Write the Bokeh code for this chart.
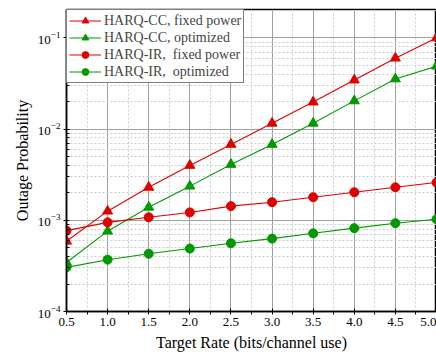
from bokeh.plotting import figure
from bokeh.models import Range1d, FixedTicker, Legend, LegendItem, PrintfTickFormatter
from bokeh.embed import file_html
from bokeh.resources import INLINE

rates = [0.5, 1.0, 1.5, 2.0, 2.5, 3.0, 3.5, 4.0, 4.5, 5.0]
cc_fixed = [5.9e-4, 1.26e-3, 2.3e-3, 4.0e-3, 6.8e-3, 1.16e-2, 1.98e-2, 3.45e-2, 6.0e-2, 1.0e-1]
cc_opt = [3.45e-4, 7.6e-4, 1.39e-3, 2.37e-3, 4.1e-3, 6.8e-3, 1.16e-2, 2.04e-2, 3.55e-2, 4.9e-2]
ir_fixed = [7.7e-4, 9.5e-4, 1.08e-3, 1.22e-3, 1.43e-3, 1.58e-3, 1.79e-3, 2.03e-3, 2.3e-3, 2.6e-3]
ir_opt = [3.05e-4, 3.7e-4, 4.3e-4, 4.9e-4, 5.6e-4, 6.3e-4, 7.2e-4, 8.2e-4, 9.3e-4, 1.03e-3]

x_ticks = [0.5, 1.0, 1.5, 2.0, 2.5, 3.0, 3.5, 4.0, 4.5, 5.0]
x_minor = [0.75, 1.25, 1.75, 2.25, 2.75, 3.25, 3.75, 4.25, 4.75]
y_ticks = [1e-4, 1e-3, 1e-2, 1e-1]
y_minor = [m * d for d in [1e-4, 1e-3, 1e-2, 1e-1] for m in range(2, 10)]

RED = "#e00000"
GREEN = "#009900"
FONT = "Liberation Serif"

p = figure(width=436, height=356, y_axis_type="log",
           x_range=Range1d(0.5, 5.0), y_range=Range1d(1e-4, 0.205),
           output_backend="svg", toolbar_location=None,
           min_border_left=66, min_border_right=0, min_border_top=9, min_border_bottom=45)

p.outline_line_color = "black"
p.outline_line_width = 1.5

p.xaxis.ticker = FixedTicker(ticks=x_ticks, minor_ticks=x_minor)
p.yaxis.ticker = FixedTicker(ticks=y_ticks, minor_ticks=y_minor)
p.xaxis.formatter = PrintfTickFormatter(format="%.1f")

for ax in [p.xaxis[0], p.yaxis[0]]:
    ax.axis_line_color = "black"
    ax.axis_line_width = 1.5
    ax.major_tick_line_color = "black"
    ax.minor_tick_line_color = "black"
    ax.major_tick_in = 3
    ax.major_tick_out = 3
    ax.major_label_text_font = FONT
    ax.major_label_text_font_size = "13px"
    ax.major_label_text_color = "black"
    ax.major_label_standoff = 3
    ax.axis_label_text_font = FONT
    ax.axis_label_text_font_size = "16px"
    ax.axis_label_text_font_style = "normal"
    ax.axis_label_text_color = "black"

p.xaxis.minor_tick_in = 0
p.xaxis.minor_tick_out = 3
p.yaxis.minor_tick_in = 3
p.yaxis.minor_tick_out = 0

p.xaxis.axis_label = "Target Rate (bits/channel use)"
p.yaxis.axis_label = "Outage Probability"
p.xaxis.axis_label_standoff = 5
p.yaxis.axis_label_standoff = 4

for g in [p.xgrid[0], p.ygrid[0]]:
    g.grid_line_color = "#a0a0a0"
    g.grid_line_width = 1
    g.minor_grid_line_color = "#cccccc"
    g.minor_grid_line_dash = "2 2"
    g.minor_grid_line_width = 1

l1 = p.line(rates, cc_fixed, line_color=RED, line_width=1.1)
m1 = p.scatter(rates, cc_fixed, marker="triangle", size=10, fill_color=RED, line_color=RED)
l2 = p.line(rates, cc_opt, line_color=GREEN, line_width=1.1)
m2 = p.scatter(rates, cc_opt, marker="triangle", size=10, fill_color=GREEN, line_color=GREEN)
l3 = p.line(rates, ir_fixed, line_color=RED, line_width=1.1)
m3 = p.scatter(rates, ir_fixed, marker="circle", size=9, fill_color=RED, line_color=RED)
l4 = p.line(rates, ir_opt, line_color=GREEN, line_width=1.1)
m4 = p.scatter(rates, ir_opt, marker="circle", size=9, fill_color=GREEN, line_color=GREEN)

legend = Legend(items=[
    LegendItem(label="HARQ-CC, fixed power", renderers=[l1, m1]),
    LegendItem(label="HARQ-CC, optimized", renderers=[l2, m2]),
    LegendItem(label="HARQ-IR,\u00a0 fixed power", renderers=[l3, m3]),
    LegendItem(label="HARQ-IR,\u00a0 optimized", renderers=[l4, m4]),
], location="top_left")
legend.margin = 0
legend.padding = 2
legend.spacing = 0
legend.border_line_color = "black"
legend.border_line_width = 1.5
legend.background_fill_alpha = 1.0
legend.label_text_font = FONT
legend.label_text_font_size = "14px"
legend.label_height = 17
legend.glyph_height = 17
legend.glyph_width = 32
legend.label_standoff = 3
p.add_layout(legend)

open("out.html", "w").write(file_html(p, INLINE))
